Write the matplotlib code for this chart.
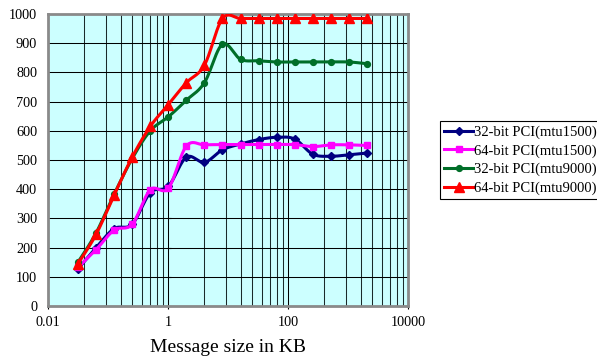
import numpy as np
import matplotlib
matplotlib.use("Agg")
import matplotlib.pyplot as plt
from matplotlib.ticker import FixedLocator, FixedFormatter, NullFormatter

# Message sizes (KB) and measured throughput for each configuration
sizes_kb = [0.03125, 0.0625, 0.125, 0.25, 0.5, 1, 2, 4, 8, 16,
            32, 64, 128, 256, 512, 1024, 2048]

pci32_mtu1500 = [127, 200, 265, 280, 388, 410, 510, 492, 535, 555,
                 570, 578, 572, 520, 513, 518, 524]
pci64_mtu1500 = [132, 193, 260, 280, 398, 403, 548, 552, 553, 553,
                 553, 553, 553, 546, 552, 552, 550]
pci32_mtu9000 = [150, 250, 383, 505, 600, 648, 705, 765, 897, 845,
                 840, 836, 836, 836, 836, 836, 830]
pci64_mtu9000 = [145, 245, 380, 510, 615, 690, 765, 825, 985, 985,
                 985, 985, 985, 985, 985, 985, 985]

series_labels = ["32-bit PCI(mtu1500)", "64-bit PCI(mtu1500)",
                 "32-bit PCI(mtu9000)", "64-bit PCI(mtu9000)"]

x_tick_values = [0.01, 1, 100, 10000]
x_tick_labels = ["0.01", "1", "100", "10000"]
y_tick_values = list(range(0, 1001, 100))
x_label = "Message size in KB"

SERIF = ["Liberation Serif", "DejaVu Serif"]
W, H = 597, 359


def smooth_curve(xs, ys, n=24):
    """Bezier smoothing (Catmull-Rom style) in log-x / linear-y space."""
    u = np.log10(np.asarray(xs, float))
    v = np.asarray(ys, float)
    P = np.column_stack([u, v])
    Pe = np.vstack([P[0], P, P[-1]])
    t = np.linspace(0, 1, n)[:, None]
    parts = []
    for i in range(len(P) - 1):
        p0, p1, p2, p3 = Pe[i], Pe[i + 1], Pe[i + 2], Pe[i + 3]
        c1 = p1 + (p2 - p0) / 6.0
        c2 = p2 - (p3 - p1) / 6.0
        seg = ((1 - t) ** 3) * p1 + 3 * ((1 - t) ** 2) * t * c1 \
            + 3 * (1 - t) * (t ** 2) * c2 + (t ** 3) * p2
        parts.append(seg if i == 0 else seg[1:])
    pts = np.vstack(parts)
    marks = [i * (n - 1) for i in range(len(P))]
    return 10 ** pts[:, 0], pts[:, 1], marks


fig = plt.figure(figsize=(W / 100, H / 100), dpi=100, facecolor="white")
left, right, top, bottom = 48.3, 408.3, 14.1, 306.0
ax = fig.add_axes([left / W, 1 - bottom / H, (right - left) / W, (bottom - top) / H])
ax.set_facecolor("#ccffff")

ax.set_xscale("log")
ax.set_xlim(0.01, 10000)
ax.set_ylim(0, 1000)

# Major ticks every two decades, minor grid at base * k^2
minor_pos = [b * k * k for b in (0.01, 1, 100) for k in range(2, 10)]
ax.xaxis.set_major_locator(FixedLocator(x_tick_values))
ax.xaxis.set_major_formatter(FixedFormatter(x_tick_labels))
ax.xaxis.set_minor_locator(FixedLocator(minor_pos))
ax.xaxis.set_minor_formatter(NullFormatter())
ax.set_yticks(y_tick_values)

ax.grid(True, which="major", axis="both", color="black", linewidth=0.75, zorder=1)
ax.grid(True, which="minor", axis="x", color="#1a2a2a", linewidth=0.75, zorder=1)
ax.set_axisbelow(True)

ax.tick_params(axis="x", which="major", direction="out", length=2.5, width=0.8,
               color="black", pad=5, labelsize=10.3)
ax.tick_params(axis="x", which="minor", length=0)
ax.tick_params(axis="y", which="both", length=0, pad=8, labelsize=10.3)
for lab in ax.get_xticklabels() + ax.get_yticklabels():
    lab.set_family(SERIF)

for sp in ax.spines.values():
    sp.set_color("#8a8a8a")
    sp.set_linewidth(2.0)

# Value axis crossing at x = 1 (tick marks only)
sec = ax.secondary_yaxis(1 / 3)
sec.set_yticks(y_tick_values)
sec.tick_params(direction="in", length=2.5, width=0.8, color="black",
                labelleft=False, labelright=False)
for sp in sec.spines.values():
    sp.set_visible(False)

styles = [
    dict(color="#000080", marker="D", ms=4.0),
    dict(color="#ff00ff", marker="s", ms=5.0),
    dict(color="#006e28", marker="o", ms=4.2),
    dict(color="#ff0000", marker="^", ms=6.8),
]
all_series = [pci32_mtu1500, pci64_mtu1500, pci32_mtu9000, pci64_mtu9000]

handles = []
for vals, lab, st in zip(all_series, series_labels, styles):
    cx, cy, marks = smooth_curve(sizes_kb, vals)
    ln, = ax.plot(cx, cy, color=st["color"], lw=2.2, marker=st["marker"],
                  ms=st["ms"], markevery=marks, mfc=st["color"], mec=st["color"],
                  label=lab, zorder=3, solid_joinstyle="round")
    handles.append(ln)

ax.set_xlabel(x_label, fontsize=14, family=SERIF, va="center")
ax.xaxis.set_label_coords(0.5, -(347 - bottom) / (bottom - top))

leg = fig.legend(handles=handles, labels=series_labels, loc="upper left",
                 bbox_to_anchor=(440 / W, 1 - 121 / H), frameon=True,
                 fancybox=False, edgecolor="black", framealpha=1,
                 borderpad=0.3, labelspacing=0.36, handlelength=1.95,
                 handletextpad=0.05, borderaxespad=0,
                 prop={"family": SERIF, "size": 10.5})
leg.get_frame().set_linewidth(0.8)
for h in leg.legend_handles:
    h.set_linewidth(2.2)

fig.savefig("out.png", dpi=100, facecolor="white")
